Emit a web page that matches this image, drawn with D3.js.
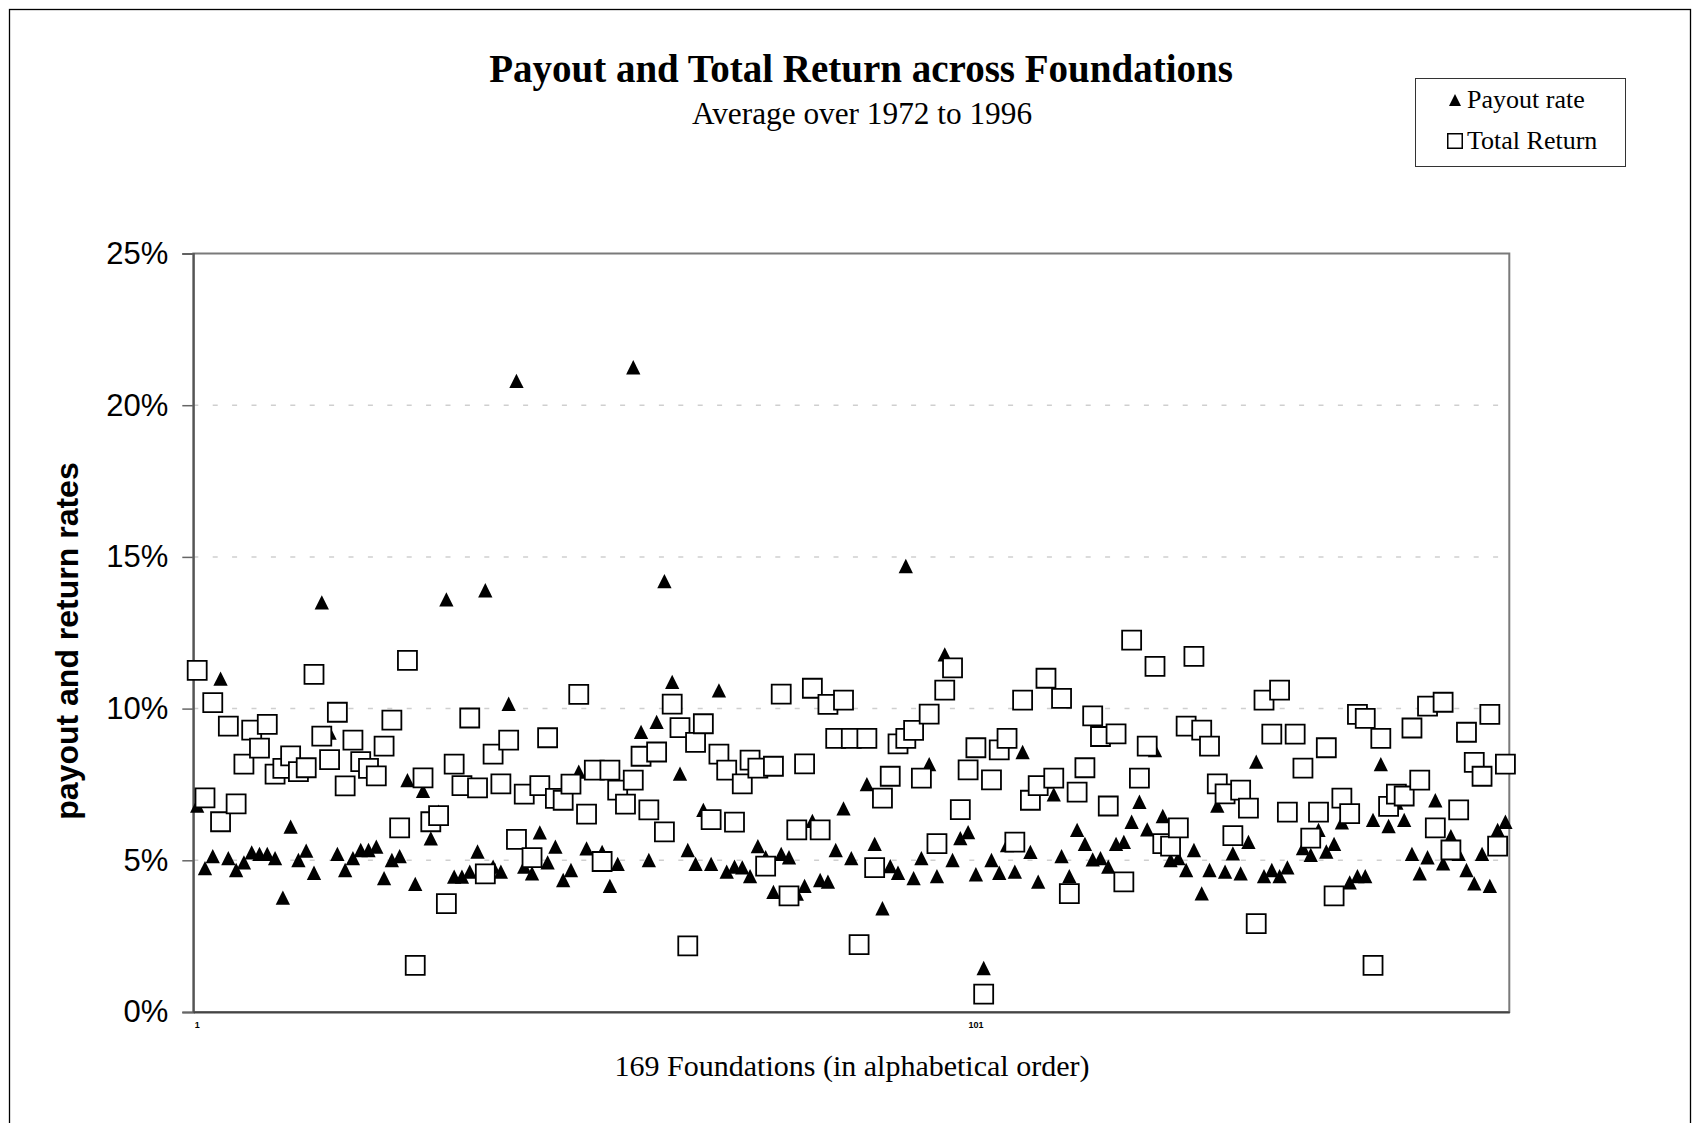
<!DOCTYPE html>
<html>
<head>
<meta charset="utf-8">
<script src="https://cdn.jsdelivr.net/npm/d3@7"></script>
<style>
html, body { margin: 0; padding: 0; background: #fff; }
svg { display: block; }
</style>
</head>
<body>
<script>
// payout rate per foundation, % (169 foundations, alphabetical)
let payout = [
  6.8, 4.74, 5.14, 10.99, 5.07, 4.68, 4.93, 5.26, 5.21, 5.21,
  5.07, 3.77, 6.11, 5.01, 5.32, 4.59, 13.5, 9.21, 5.21, 4.68,
  5.07, 5.34, 5.34, 5.45, 4.41, 5.01, 5.14, 7.64, 4.22, 7.29,
  5.72, 6.6, 13.6, 4.46, 4.46, 4.63, 5.29, 13.9, 4.79, 4.63,
  10.16, 20.8, 4.79, 4.57, 5.92, 4.93, 5.45, 4.35, 4.68, 7.92,
  5.39, 8.0, 5.28, 4.16, 4.88, 7.0, 21.25, 9.23, 5.01, 9.56,
  14.2, 10.88, 7.86, 5.34, 4.88, 6.66, 4.88, 10.6, 4.63, 4.79,
  4.77, 4.48, 5.47, 5.1, 3.96, 5.21, 5.1, 3.9, 4.16, 6.3,
  4.35, 4.3, 5.34, 6.71, 5.07, 9.0, 7.51, 5.54, 3.42, 4.81,
  4.59, 14.7, 4.41, 5.07, 8.17, 4.48, 11.79, 5.01, 5.73, 5.93,
  4.54, 1.45, 5.01, 4.59, 5.5, 4.63, 8.57, 5.28, 4.3, 7.6,
  7.17, 5.14, 4.48, 6.0, 5.54, 5.03, 5.07, 4.79, 5.54, 5.61,
  6.27, 6.93, 6.02, 8.63, 6.46, 5.01, 5.07, 4.68, 5.34, 3.91,
  4.68, 6.8, 4.63, 5.23, 4.57, 5.61, 8.25, 4.48, 4.68, 4.48,
  4.77, 9.1, 5.4, 5.18, 6.0, 5.29, 5.54, 6.25, 4.27, 4.48,
  4.48, 6.33, 8.17, 6.13, 6.9, 6.33, 5.21, 4.57, 5.1, 6.98,
  4.9, 5.8, 5.21, 4.68, 4.24, 5.21, 4.16, 6.0, 6.27
];

// total return per foundation, %
let totalReturn = [
  11.26, 7.06, 10.2, 6.27, 9.42, 6.86, 8.17, 9.29, 8.7, 9.48,
  7.84, 8.03, 8.44, 7.92, 8.05, 11.13, 9.09, 8.32, 9.88, 7.45,
  8.96, 8.25, 8.03, 7.78, 8.76, 9.62, 6.07, 11.59, 1.54, 7.72,
  6.27, 6.47, 3.57, 8.17, 7.46, 9.69, 7.39, 4.55, 8.5, 7.52,
  8.96, 5.69, 7.18, 5.09, 7.46, 9.04, 7.04, 6.98, 7.51, 10.47,
  6.52, 7.97, 4.96, 7.97, 7.31, 6.85, 7.64, 8.43, 6.66, 8.57,
  5.94, 10.15, 9.37, 2.18, 8.89, 9.5, 6.34, 8.5, 7.97, 6.26,
  7.52, 8.3, 8.04, 4.81, 8.1, 10.48, 3.83, 6.0, 8.18, 10.67,
  6.0, 10.14, 9.02, 10.28, 9.02, 2.22, 9.02, 4.76, 7.05, 7.77,
  8.84, 9.02, 9.28, 7.71, 9.82, 5.55, 10.61, 11.34, 6.67, 7.98,
  8.71, 0.59, 7.65, 8.64, 9.02, 5.6, 10.28, 6.98, 7.46, 11.0,
  7.71, 10.34, 3.9, 7.25, 8.05, 9.76, 9.08, 6.79, 9.17, 4.29,
  12.26, 7.71, 8.76, 11.39, 5.55, 5.47, 6.07, 9.42, 11.72, 9.29,
  8.76, 7.52, 7.19, 5.81, 7.31, 6.72, 2.91, 10.28, 9.16, 10.61,
  6.59, 9.16, 8.04, 5.73, 6.59, 8.71, 3.83, 7.05, 6.54, 9.81,
  9.68, 1.54, 9.02, 6.78, 7.18, 7.12, 9.36, 7.64, 10.08, 6.07,
  10.21, 5.34, 6.66, 9.22, 8.23, 7.77, 9.81, 5.47, 8.17
];

let yTicks = [0, 5, 10, 15, 20, 25];
let xLabelTicks = [0, 100];   // the two tiny category labels under the axis
let seriesNames = ["Payout rate", "Total Return"];

let w = 1699;
let h = 1123;

let plotLeft = 193.3;
let plotRight = 1509.3;
let plotTop = 253.5;
let plotBottom = 1012;

let foundations = d3.range(payout.length);

let svg = d3.select("body")
  .append("svg")
  .attr("width", w)
  .attr("height", h);

// outer chart frame
svg.append("rect")
  .attr("x", 9.5)
  .attr("y", 9.5)
  .attr("width", 1681)
  .attr("height", 1140)
  .attr("fill", "none")
  .attr("stroke", "#000")
  .attr("stroke-width", 1.3);

let xScale = d3.scaleBand()
  .domain(foundations)
  .range([plotLeft, plotRight]);

let yScale = d3.scaleLinear()
  .domain([0, 25])
  .range([plotBottom, plotTop]);

let cx = (i) => xScale(i) + xScale.bandwidth() / 2;

// dashed gridlines
svg.append("g")
  .selectAll("line")
  .data(yTicks.filter((t) => t > 0 && t < 25))
  .enter()
  .append("line")
  .attr("x1", plotLeft)
  .attr("x2", plotRight)
  .attr("y1", (d) => yScale(d))
  .attr("y2", (d) => yScale(d))
  .attr("stroke", "#cfcfcf")
  .attr("stroke-width", 1.5)
  .attr("stroke-dasharray", "5,14.4");

// plot frame
svg.append("rect")
  .attr("x", plotLeft)
  .attr("y", plotTop)
  .attr("width", plotRight - plotLeft)
  .attr("height", plotBottom - plotTop)
  .attr("fill", "none")
  .attr("stroke", "#7a7a7a")
  .attr("stroke-width", 2);

let yAxis = d3.axisLeft(yScale)
  .tickValues(yTicks)
  .tickFormat((d) => d + "%")
  .tickSize(11)
  .tickPadding(14);

let gy = svg.append("g")
  .attr("transform", "translate(" + plotLeft + ",0)")
  .call(yAxis);

gy.select(".domain").attr("stroke", "#555").attr("stroke-width", 2);
gy.selectAll(".tick line").attr("stroke", "#666").attr("stroke-width", 1.5);
gy.selectAll(".tick text")
  .attr("font-family", "Liberation Sans, Arial, sans-serif")
  .attr("font-size", 31)
  .attr("fill", "#000");

// bottom axis line + two tiny labels
let xAxis = d3.axisBottom(xScale)
  .tickValues(xLabelTicks)
  .tickFormat((d) => d + 1)
  .tickSize(0)
  .tickPadding(10);

let gx = svg.append("g")
  .attr("transform", "translate(0," + plotBottom + ")")
  .call(xAxis);

gx.select(".domain").attr("stroke", "#444").attr("stroke-width", 2.2);
gx.selectAll(".tick text")
  .attr("font-family", "Liberation Sans, Arial, sans-serif")
  .attr("font-weight", "bold")
  .attr("font-size", 9)
  .attr("fill", "#000");

// triangle centred on its bounding box, as wide as it is tall
let triUp = {
  draw(ctx, size) {
    let s = Math.sqrt(size);
    ctx.moveTo(0, -s / 2);
    ctx.lineTo(s / 2, s / 2);
    ctx.lineTo(-s / 2, s / 2);
    ctx.closePath();
  }
};

let triPath = d3.symbol().type(triUp).size(14.3 * 14.3)();
let sqPath = d3.symbol().type(d3.symbolSquare).size(361)();

svg.append("g")
  .selectAll("path")
  .data(payout)
  .enter()
  .append("path")
  .attr("d", triPath)
  .attr("transform", (d, i) => "translate(" + cx(i) + "," + yScale(d) + ")")
  .attr("fill", "#000");

svg.append("g")
  .selectAll("path")
  .data(totalReturn)
  .enter()
  .append("path")
  .attr("d", sqPath)
  .attr("transform", (d, i) => "translate(" + cx(i) + "," + yScale(d) + ")")
  .attr("fill", "#fff")
  .attr("stroke", "#000")
  .attr("stroke-width", 1.8);

// titles
svg.append("text")
  .attr("x", 861)
  .attr("y", 82)
  .attr("text-anchor", "middle")
  .attr("font-family", "Liberation Serif, Times New Roman, serif")
  .attr("font-weight", "bold")
  .attr("font-size", 39)
  .text("Payout and Total Return across Foundations");

svg.append("text")
  .attr("x", 862)
  .attr("y", 124)
  .attr("text-anchor", "middle")
  .attr("font-family", "Liberation Serif, Times New Roman, serif")
  .attr("font-size", 31.3)
  .text("Average over 1972 to 1996");

svg.append("text")
  .attr("x", 852)
  .attr("y", 1076)
  .attr("text-anchor", "middle")
  .attr("font-family", "Liberation Serif, Times New Roman, serif")
  .attr("font-size", 30)
  .text("169 Foundations (in alphabetical order)");

svg.append("text")
  .attr("transform", "translate(78,641) rotate(-90)")
  .attr("text-anchor", "middle")
  .attr("font-family", "Liberation Sans, Arial, sans-serif")
  .attr("font-weight", "bold")
  .attr("font-size", 32)
  .text("payout and return rates");

// legend
let legend = svg.append("g");

legend.append("rect")
  .attr("x", 1415.5)
  .attr("y", 78.5)
  .attr("width", 210)
  .attr("height", 88)
  .attr("fill", "#fff")
  .attr("stroke", "#333")
  .attr("stroke-width", 1);

legend.append("path")
  .attr("d", d3.symbol().type(triUp).size(12 * 12)())
  .attr("transform", "translate(1455,100)")
  .attr("fill", "#000");

legend.append("path")
  .attr("d", d3.symbol().type(d3.symbolSquare).size(210)())
  .attr("transform", "translate(1455,141)")
  .attr("fill", "#fff")
  .attr("stroke", "#000")
  .attr("stroke-width", 1.5);

legend.selectAll("text")
  .data(seriesNames)
  .enter()
  .append("text")
  .attr("x", 1467)
  .attr("y", (d, i) => 108 + i * 41)
  .attr("font-family", "Liberation Serif, Times New Roman, serif")
  .attr("font-size", 26)
  .text((d) => d);
</script>
</body>
</html>
